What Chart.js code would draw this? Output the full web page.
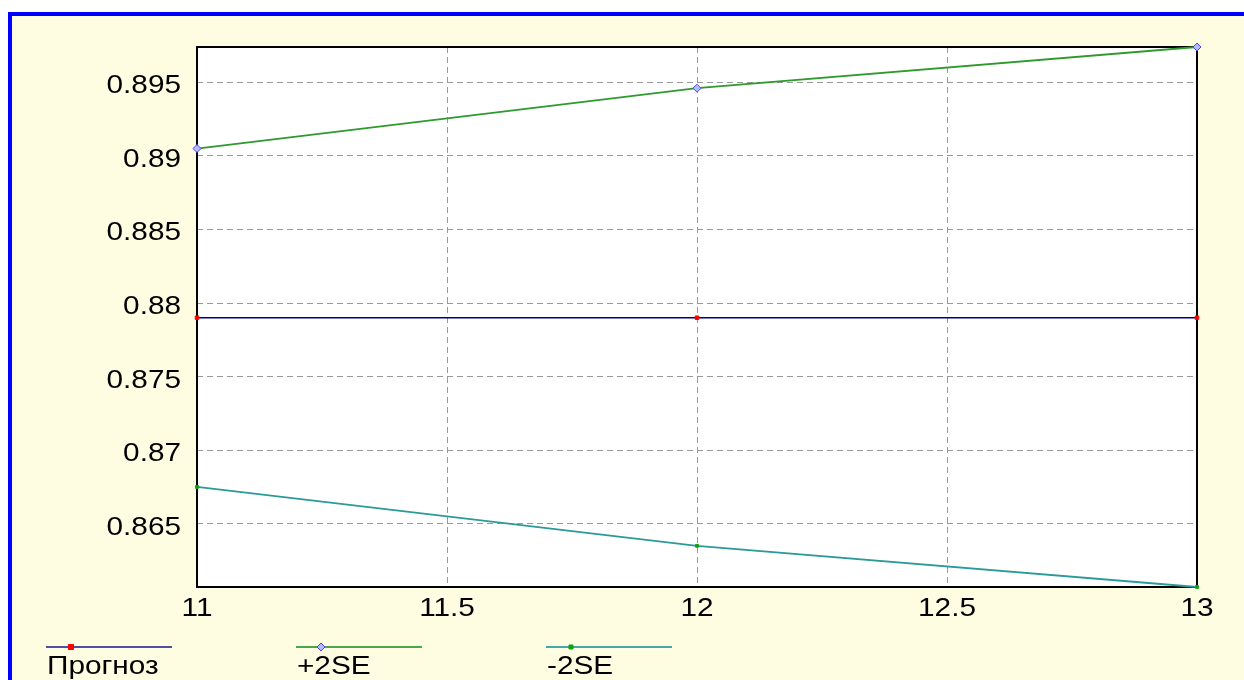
<!DOCTYPE html>
<html>
<head>
<meta charset="utf-8">
<script src="https://cdn.jsdelivr.net/npm/chart.js@4"></script>
<style>
  html, body { margin: 0; padding: 0; background: #ffffff; overflow: hidden; }
  #frame { position: absolute; left: 8px; top: 12px; width: 1260px; height: 700px;
           border: 4px solid #0000ff; background: #fffde1; }
  #wrap { position: absolute; left: 0; top: 0; width: 1244px; height: 680px; }
</style>
</head>
<body>
<div id="frame"></div>
<div id="wrap"><canvas id="forecast-chart" width="1244" height="680"></canvas></div>
<script>
// значения
var xValues = [11, 12, 13];
var prognoz = [0.8790, 0.8790, 0.8790];
var plus2SE = [0.8905, 0.8946, 0.8974];
var minus2SE = [0.8675, 0.8635, 0.8607];
var yTicks = [0.865, 0.87, 0.875, 0.88, 0.885, 0.89, 0.895];
var xTicks = [11, 11.5, 12, 12.5, 13];
var seriesNames = ['Прогноз', '+2SE', '-2SE'];

function toPoints(ys) {
  return xValues.map(function (x, i) { return { x: x, y: ys[i] }; });
}

var allY = prognoz.concat(plus2SE, minus2SE);
var fontCss = '25px "Liberation Sans", Arial, sans-serif';
var stretch = 1.19; // текст в оригинале растянут по ширине

function stretchedText(ctx, text, x, y, align) {
  ctx.save();
  ctx.translate(x, y);
  ctx.scale(stretch, 1);
  ctx.font = fontCss;
  ctx.fillStyle = '#000000';
  ctx.textAlign = align;
  ctx.textBaseline = 'alphabetic';
  ctx.fillText(text, 0, 0);
  ctx.restore();
}

var plotBox = {
  id: 'plotBox',
  beforeDraw: function (chart) {
    var a = chart.chartArea, ctx = chart.ctx;
    ctx.save();
    ctx.fillStyle = '#ffffff';
    ctx.fillRect(a.left, a.top, a.right - a.left, a.bottom - a.top);
    ctx.restore();
  },
  beforeDatasetsDraw: function (chart) {
    var a = chart.chartArea, ctx = chart.ctx;
    ctx.save();
    ctx.strokeStyle = '#000000';
    ctx.lineWidth = 2;
    ctx.strokeRect(a.left, a.top, a.right - a.left, a.bottom - a.top);
    ctx.restore();
  }
};

// подписи осей рисуем сами, чтобы растянуть шрифт как в оригинале
var axisLabels = {
  id: 'axisLabels',
  afterDraw: function (chart) {
    var ctx = chart.ctx, xs = chart.scales.x, ys = chart.scales.y;
    ys.ticks.forEach(function (t) {
      stretchedText(ctx, String(t.value), chart.chartArea.left - 16, ys.getPixelForValue(t.value) + 11, 'right');
    });
    xs.ticks.forEach(function (t) {
      stretchedText(ctx, String(t.value), xs.getPixelForValue(t.value), chart.chartArea.bottom + 29, 'center');
    });
  }
};

// легенда внизу, как в оригинале
var bottomLegend = {
  id: 'bottomLegend',
  afterDraw: function (chart) {
    var ctx = chart.ctx;
    var starts = [46, 296, 546];
    chart.data.datasets.forEach(function (ds, i) {
      var x0 = starts[i], y = 647;
      ctx.save();
      ctx.strokeStyle = ds.legendLine;
      ctx.lineWidth = 2;
      ctx.beginPath();
      ctx.moveTo(x0, y);
      ctx.lineTo(x0 + 126, y);
      ctx.stroke();
      ctx.fillStyle = ds.pointBackgroundColor;
      ctx.strokeStyle = ds.pointBorderColor;
      ctx.lineWidth = 1;
      var mx = x0 + 25, r = ds.pointRadius;
      ctx.beginPath();
      if (ds.pointStyle === 'rectRot') {
        ctx.moveTo(mx, y - r); ctx.lineTo(mx + r, y); ctx.lineTo(mx, y + r); ctx.lineTo(mx - r, y);
        ctx.closePath();
      } else {
        ctx.rect(mx - r, y - r, 2 * r, 2 * r);
      }
      ctx.fill();
      ctx.stroke();
      ctx.restore();
      stretchedText(ctx, ds.label, x0 + 1, 674, 'left');
    });
  }
};

var ctx = document.getElementById('forecast-chart').getContext('2d');
var forecastChart = new Chart(ctx, {
  type: 'line',
  data: {
    datasets: [{
      label: seriesNames[0],
      data: toPoints(prognoz),
      borderColor: '#000080',
      legendLine: '#5050a0',
      borderWidth: 1.5,
      pointStyle: 'rect',
      pointRadius: 2.5,
      pointBackgroundColor: '#ff0000',
      pointBorderColor: '#ff0000',
      pointBorderWidth: 1
    }, {
      label: seriesNames[1],
      data: toPoints(plus2SE),
      borderColor: '#2e9a2e',
      legendLine: '#4aa84a',
      borderWidth: 1.8,
      pointStyle: 'rectRot',
      pointRadius: 4,
      pointBackgroundColor: '#b8b8ff',
      pointBorderColor: '#4848f0',
      pointBorderWidth: 1
    }, {
      label: seriesNames[2],
      data: toPoints(minus2SE),
      borderColor: '#2a9a9a',
      legendLine: '#44a8a8',
      borderWidth: 1.8,
      pointStyle: 'rect',
      pointRadius: 2,
      pointBackgroundColor: '#10a010',
      pointBorderColor: '#10a010',
      pointBorderWidth: 1
    }]
  },
  options: {
    responsive: false,
    animation: false,
    clip: false,
    layout: { padding: { left: 0, right: 47, top: 47, bottom: 0 } },
    plugins: { legend: { display: false }, tooltip: { enabled: false } },
    elements: { line: { tension: 0 } },
    scales: {
      x: {
        type: 'linear',
        min: xTicks[0],
        max: xTicks[xTicks.length - 1],
        afterBuildTicks: function (scale) {
          scale.ticks = xTicks.map(function (v) { return { value: v }; });
        },
        afterFit: function (scale) { scale.height = 93; },
        grid: { color: '#999999', lineWidth: 1, drawTicks: false },
        border: { display: false, dash: [6, 4] },
        ticks: { display: false }
      },
      y: {
        type: 'linear',
        min: Math.min.apply(null, allY),
        max: Math.max.apply(null, allY),
        afterBuildTicks: function (scale) {
          scale.ticks = yTicks.map(function (v) { return { value: v }; });
        },
        afterFit: function (scale) { scale.width = 197; },
        grid: { color: '#999999', lineWidth: 1, drawTicks: false },
        border: { display: false, dash: [6, 4] },
        ticks: { display: false }
      }
    }
  },
  plugins: [plotBox, axisLabels, bottomLegend]
});
</script>
</body>
</html>
